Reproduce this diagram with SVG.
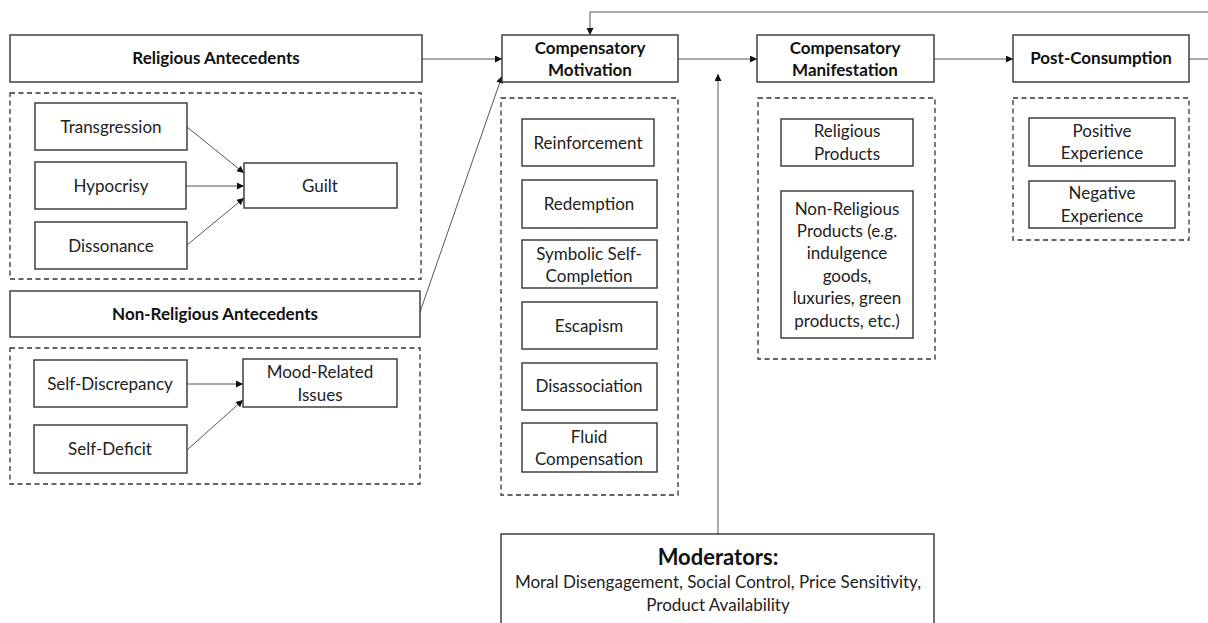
<svg xmlns="http://www.w3.org/2000/svg" width="1208" height="623" viewBox="0 0 1208 623">
<style>
.box{fill:#fff;stroke:#333;stroke-width:1.4}
.dash{fill:none;stroke:#333;stroke-width:1.3;stroke-dasharray:5,3.5}
.t{font-family:Lato,"Open Sans",sans-serif;font-size:17px;fill:#222;text-anchor:middle}
.b{font-family:Lato,"Open Sans",sans-serif;font-size:17px;font-weight:bold;fill:#111;text-anchor:middle}
.m{font-family:Lato,"Open Sans",sans-serif;font-size:22px;font-weight:bold;fill:#111;text-anchor:middle}
.c{fill:none;stroke:#555;stroke-width:1}
</style>
<defs>
<marker id="ah" viewBox="0 0 10 10" refX="10" refY="5" markerWidth="9" markerHeight="7" markerUnits="userSpaceOnUse" orient="auto">
<path d="M0,0 L10,5 L0,10 z" fill="#111"/>
</marker>
</defs>
<rect width="1208" height="623" fill="#fff"/>
<g id="containers">
<rect class="dash" x="10" y="93" width="411" height="186"/>
<rect class="dash" x="10" y="348" width="410" height="136"/>
<rect class="dash" x="501" y="98" width="177" height="397"/>
<rect class="dash" x="758" y="98" width="177" height="261"/>
<rect class="dash" x="1013" y="98" width="176" height="142"/>
</g>
<g id="connectors">
<path class="c" d="M422,59 H502" marker-end="url(#ah)"/>
<path class="c" d="M420,312 L502,76" marker-end="url(#ah)"/>
<path class="c" d="M187,127 L244,173" marker-end="url(#ah)"/>
<path class="c" d="M186,186 H244" marker-end="url(#ah)"/>
<path class="c" d="M187,245 L244,198" marker-end="url(#ah)"/>
<path class="c" d="M187,384 H243" marker-end="url(#ah)"/>
<path class="c" d="M187,450 L243,400" marker-end="url(#ah)"/>
<path class="c" d="M678,59 H757" marker-end="url(#ah)"/>
<path class="c" d="M934,59 H1013" marker-end="url(#ah)"/>
<path class="c" d="M718,534 V74" marker-end="url(#ah)"/>
<path class="c" d="M1189,59 H1210 V12 H590 V35" marker-end="url(#ah)"/>
</g>
<g id="religious-antecedents"><rect class="box" x="10" y="35" width="412" height="47"/><text class="b" x="216" y="64">Religious Antecedents</text></g>
<g id="transgression"><rect class="box" x="35" y="103" width="152" height="47"/><text class="t" x="111" y="133">Transgression</text></g>
<g id="hypocrisy"><rect class="box" x="35" y="162" width="151" height="47"/><text class="t" x="111" y="192">Hypocrisy</text></g>
<g id="dissonance"><rect class="box" x="35" y="222" width="152" height="47"/><text class="t" x="111" y="252">Dissonance</text></g>
<g id="guilt"><rect class="box" x="244" y="163" width="153" height="45"/><text class="t" x="320" y="192">Guilt</text></g>
<g id="non-religious-antecedents"><rect class="box" x="10" y="291" width="410" height="46"/><text class="b" x="215" y="320">Non-Religious Antecedents</text></g>
<g id="self-discrepancy"><rect class="box" x="34" y="360" width="153" height="47"/><text class="t" x="110" y="390">Self-Discrepancy</text></g>
<g id="self-deficit"><rect class="box" x="34" y="425" width="153" height="48"/><text class="t" x="110" y="455">Self-Deficit</text></g>
<g id="mood-related-issues"><rect class="box" x="243" y="359" width="154" height="48"/><text class="t" x="320" y="378">Mood-Related</text><text class="t" x="320" y="401">Issues</text></g>
<g id="compensatory-motivation"><rect class="box" x="502" y="35" width="176" height="47"/><text class="b" x="590" y="54">Compensatory</text><text class="b" x="590" y="76">Motivation</text></g>
<g id="reinforcement"><rect class="box" x="522" y="119" width="132" height="47"/><text class="t" x="588" y="149">Reinforcement</text></g>
<g id="redemption"><rect class="box" x="522" y="180" width="135" height="48"/><text class="t" x="589" y="210">Redemption</text></g>
<g id="symbolic-self-completion"><rect class="box" x="522" y="240" width="135" height="48"/><text class="t" x="589" y="260">Symbolic Self-</text><text class="t" x="589" y="282">Completion</text></g>
<g id="escapism"><rect class="box" x="522" y="302" width="135" height="47"/><text class="t" x="589" y="332">Escapism</text></g>
<g id="disassociation"><rect class="box" x="522" y="363" width="135" height="47"/><text class="t" x="589" y="392">Disassociation</text></g>
<g id="fluid-compensation"><rect class="box" x="522" y="423" width="135" height="49"/><text class="t" x="589" y="443">Fluid</text><text class="t" x="589" y="465">Compensation</text></g>
<g id="compensatory-manifestation"><rect class="box" x="757" y="35" width="177" height="47"/><text class="b" x="845" y="54">Compensatory</text><text class="b" x="845" y="76">Manifestation</text></g>
<g id="religious-products"><rect class="box" x="781" y="119" width="132" height="47"/><text class="t" x="847" y="137">Religious</text><text class="t" x="847" y="160">Products</text></g>
<g id="non-religious-products"><rect class="box" x="781" y="191" width="132" height="147"/>
<text class="t" x="847" y="215">Non-Religious</text><text class="t" x="847" y="237">Products (e.g.</text><text class="t" x="847" y="259">indulgence</text><text class="t" x="847" y="282">goods,</text><text class="t" x="847" y="304">luxuries, green</text><text class="t" x="847" y="327">products, etc.)</text></g>
<g id="post-consumption"><rect class="box" x="1013" y="35" width="176" height="47"/><text class="b" x="1101" y="64">Post-Consumption</text></g>
<g id="positive-experience"><rect class="box" x="1029" y="118" width="146" height="48"/><text class="t" x="1102" y="137">Positive</text><text class="t" x="1102" y="159">Experience</text></g>
<g id="negative-experience"><rect class="box" x="1029" y="181" width="146" height="47"/><text class="t" x="1102" y="199">Negative</text><text class="t" x="1102" y="222">Experience</text></g>
<g id="moderators"><rect class="box" x="501" y="534" width="433" height="100"/><text class="m" x="718" y="565">Moderators:</text><text class="t" x="718" y="588">Moral Disengagement, Social Control, Price Sensitivity,</text><text class="t" x="718" y="611">Product Availability</text></g>
</svg>
